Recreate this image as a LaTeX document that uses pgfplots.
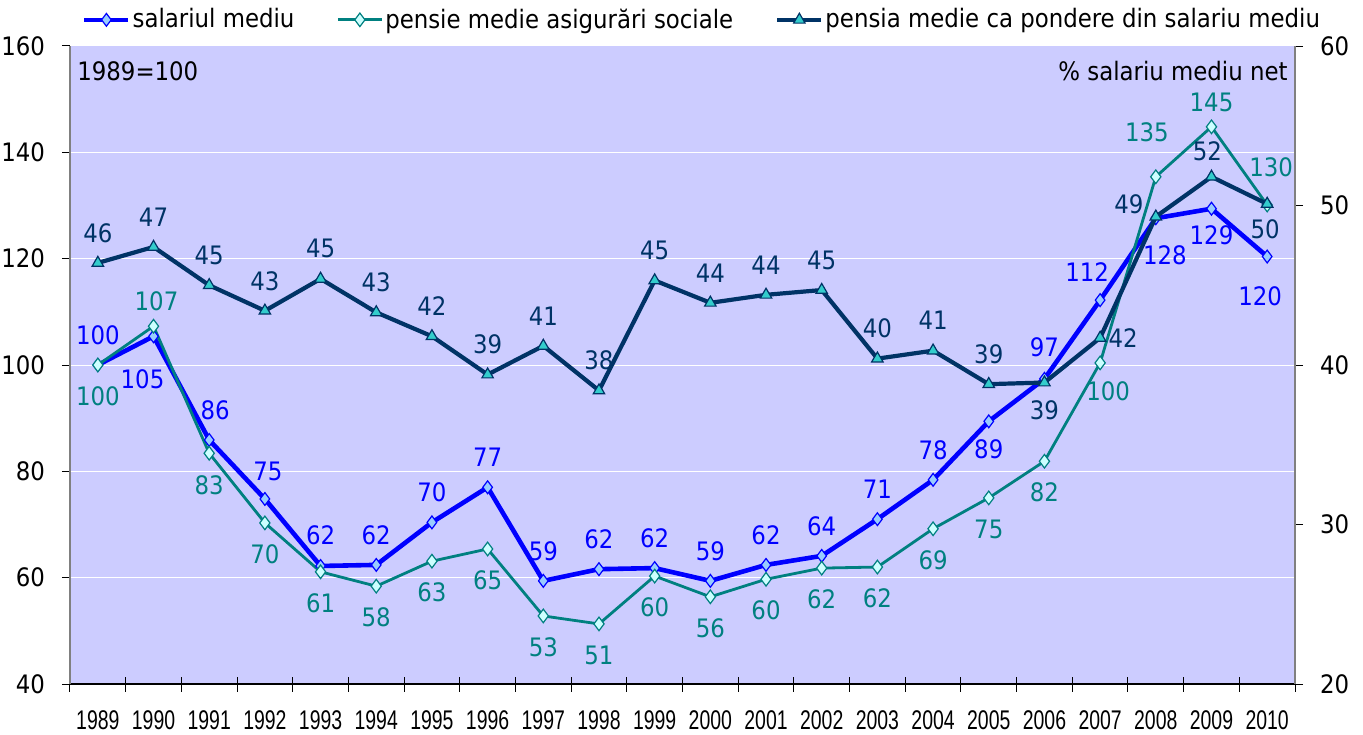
\documentclass[border=0pt]{standalone}
\usepackage{pgfplots}
\pgfplotsset{compat=1.18}
\usepackage{pgfplotstable}
\usepackage{fontspec}
\setmainfont{DejaVu Sans Condensed}
\newfontfamily\yearfont{Liberation Sans}
\definecolor{bgc}{RGB}{204,204,255}
\definecolor{sal}{RGB}{0,0,255}
\definecolor{salfill}{RGB}{153,204,255}
\definecolor{pen}{RGB}{0,128,128}
\definecolor{penfill}{RGB}{204,255,255}
\definecolor{pon}{RGB}{0,51,102}
\definecolor{ponfill}{RGB}{51,204,204}
\definecolor{axgray}{RGB}{128,128,128}
\newcommand{\lbl}{\fontsize{12.7}{15}\selectfont}

% offsets dx, dy in pixels (0.5pt each), dy positive = up
\pgfplotstableread{
x y dx dy lab
0 100.0 0 30 100
1 105.4 -11 -43 105
2 85.9 6 30 86
3 74.8 3 28 75
4 62.2 0 31 62
5 62.4 0 30 62
6 70.4 0 30 70
7 77.0 0 30 77
8 59.4 0 30 59
9 61.6 0 30 62
10 61.8 0 30 62
11 59.4 0 30 59
12 62.4 0 30 62
13 64.1 0 30 64
14 71.0 0 30 71
15 78.4 0 30 78
16 89.4 0 -28 89
17 97.4 0 32 97
18 112.2 -13 28 112
19 127.6 9 -37 128
20 129.4 0 -27 129
21 120.4 -7 -40 120
}\salt

\pgfplotstableread{
x y dx dy lab
0 100.0 0 -31 100
1 107.3 3 25 107
2 83.4 0 -32 83
3 70.3 0 -31 70
4 61.1 0 -31 61
5 58.4 0 -31 58
6 63.1 0 -31 63
7 65.4 0 -31 65
8 52.8 0 -31 53
9 51.3 0 -31 51
10 60.3 0 -31 60
11 56.4 0 -31 56
12 59.7 0 -31 60
13 61.8 0 -31 62
14 62.0 0 -31 62
15 69.2 0 -31 69
16 75.0 0 -31 75
17 81.9 0 -31 82
18 100.4 8 -28 100
19 135.4 -9 45 135
20 144.8 0 24 145
21 130.1 4 38 130
}\pent

\pgfplotstableread{
x y dx dy lab
0 46.4 0 30 46
1 47.4 0 30 47
2 45.0 0 30 45
3 43.4 0 30 43
4 45.4 0 30 45
5 43.3 0 30 43
6 41.8 0 30 42
7 39.4 0 30 39
8 41.2 0 30 41
9 38.4 0 30 38
10 45.3 0 30 45
11 43.9 0 30 44
12 44.4 0 30 44
13 44.7 0 30 45
14 40.4 0 30 40
15 40.9 0 30 41
16 38.8 0 30 39
17 38.9 0 -28 39
18 41.7 23 0 42
19 49.3 -27 12 49
20 51.8 -4 26 52
21 50.1 -2 -25 50
}\pont

\pgfplotsset{
  lblstyle/.style={
    nodes near coords,
    point meta=explicit symbolic,
    visualization depends on={\thisrow{dx} \as \dx},
    visualization depends on={\thisrow{dy} \as \dy},
    nodes near coords style={font=\lbl, text=#1, anchor=center, inner sep=0pt,
      xshift=\dx*0.5pt, yshift=\dy*0.5pt},
  },
}

\begin{document}
\begin{tikzpicture}
\begin{axis}[
  name=main,
  scale only axis, width=612.5pt, height=319pt,
  clip=false,
  xmin=-0.5, xmax=21.5, ymin=40, ymax=160,
  axis x line*=bottom, axis y line*=left,
  x axis line style={black, line width=0.6pt, -},
  y axis line style={axgray, line width=0.9pt, -},
  axis background/.style={fill=bgc},
  ytick={40,60,...,160},
  ymajorgrids, grid style={white, line width=0.5pt},
  xtick={0,...,21},
  xticklabels={1989,1990,1991,1992,1993,1994,1995,1996,1997,1998,1999,2000,2001,2002,2003,2004,2005,2006,2007,2008,2009,2010},
  minor xtick={-0.5,0.5,...,21.5},
  major x tick style={draw=none},
  minor x tick style={black, line width=0.5pt, yshift=3.75pt},
  minor tick length=7.5pt,
  tick align=outside,
  major tick length=4pt,
  y tick style={black, line width=0.5pt},
  /pgf/number format/assume math mode=true,
  yticklabel style={font=\lbl, xshift=-5pt},
  xticklabel style={font=\yearfont\fontsize{13.5}{15}\selectfont, xscale=0.72, yshift=-6pt},
  legend style={at={(0.516,1.041)}, anchor=center, draw=none, fill=none,
    font=\lbl, inner sep=0pt,
    /tikz/every even column/.append style={column sep=20pt},
    nodes={inner xsep=1pt}},
  legend columns=3,
  legend cell align=left,
  legend image code/.code={\draw[mark repeat=2,mark phase=2] plot coordinates {(0pt,0pt) (11pt,0pt) (22pt,0pt)};},
]
\addplot[sal, line width=2.3pt, mark=diamond*, mark size=3.2pt,
  mark options={solid, fill=salfill, draw=sal, line width=0.6pt},
  lblstyle=sal] table[x=x, y=y, meta=lab] {\salt};
\addlegendentry{salariul mediu}
\addplot[pen, line width=1.4pt, mark=diamond*, mark size=3.4pt,
  mark options={solid, fill=penfill, draw=pen, line width=0.6pt},
  lblstyle=pen] table[x=x, y=y, meta=lab] {\pent};
\addlegendentry{pensie medie asigurări sociale}
\addlegendimage{pon, line width=2.1pt, mark=triangle*, mark size=3.3pt,
  mark options={solid, fill=ponfill, draw=pon, line width=0.6pt}}
\addlegendentry{pensia medie ca pondere din salariu mediu}
\node[anchor=north west, inner sep=0pt, font=\lbl] at ([shift={(3.5pt,-7.5pt)}]rel axis cs:0,1) {1989=100};
\node[anchor=north east, inner sep=0pt, font=\lbl] at ([shift={(-3.5pt,-7.5pt)}]rel axis cs:1,1) {\% salariu mediu net};
\end{axis}
\begin{axis}[
  scale only axis, width=612.5pt, height=319pt,
  clip=false,
  xmin=-0.5, xmax=21.5, ymin=20, ymax=60,
  axis y line*=right, axis x line=none,
  y axis line style={axgray, line width=0.9pt, -},
  ytick={20,30,...,60},
  tick align=outside,
  major tick length=4pt,
  y tick style={black, line width=0.5pt},
  /pgf/number format/assume math mode=true,
  yticklabel style={font=\lbl, xshift=5pt},
]
\addplot[pon, line width=2.1pt, mark=triangle*, mark size=3.3pt,
  mark options={solid, fill=ponfill, draw=pon, line width=0.6pt},
  lblstyle=pon] table[x=x, y=y, meta=lab] {\pont};
\end{axis}
\pgfresetboundingbox
\path[use as bounding box] ([shift={(-35pt,-25pt)}]main.south west) rectangle ([shift={(34pt,23pt)}]main.north east);
\end{tikzpicture}
\end{document}
